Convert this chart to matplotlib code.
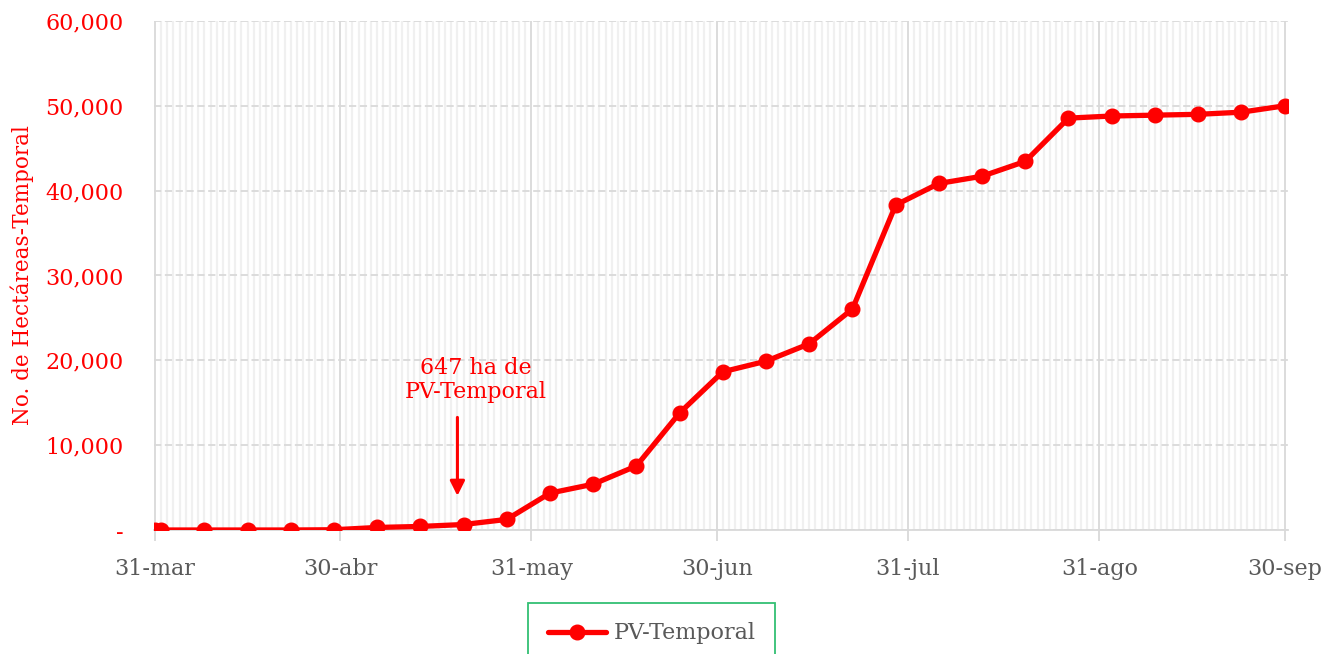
import pandas as pd
import matplotlib
matplotlib.use("Agg")
import matplotlib.pyplot as plt
import matplotlib.dates as mdates
from matplotlib.ticker import FixedLocator, FuncFormatter

# --- data ---
fechas = ["2019-03-31", "2019-04-01", "2019-04-08", "2019-04-15", "2019-04-22",
          "2019-04-29", "2019-05-06", "2019-05-13", "2019-05-20", "2019-05-27",
          "2019-06-03", "2019-06-10", "2019-06-17", "2019-06-24", "2019-07-01",
          "2019-07-08", "2019-07-15", "2019-07-22", "2019-07-29", "2019-08-05",
          "2019-08-12", "2019-08-19", "2019-08-26", "2019-09-02", "2019-09-09",
          "2019-09-16", "2019-09-23", "2019-09-30"]
hectareas = [0, 0, 0, 0, 0,
             30, 300, 420, 647, 1250,
             4350, 5400, 7550, 13800, 18650,
             19900, 21950, 26050, 38300, 40850,
             41700, 43450, 48550, 48800, 48900,
             49000, 49250, 50000]

tick_fechas = ["2019-03-31", "2019-04-30", "2019-05-31", "2019-06-30",
               "2019-07-31", "2019-08-31", "2019-09-30"]
tick_labels = ["31-mar", "30-abr", "31-may", "30-jun", "31-jul", "31-ago", "30-sep"]
y_ticks = [0, 10000, 20000, 30000, 40000, 50000, 60000]

serie = "PV-Temporal"
nota = "647 ha de\nPV-Temporal"

RED = "#ff0000"
GRAY_TXT = "#595959"
GRID = "#d9d9d9"
MINOR = "#f0f0f0"
FS = 16

plt.rcParams["font.family"] = ["DejaVu Serif"]

x = pd.to_datetime(fechas)
xt = mdates.date2num(pd.to_datetime(tick_fechas))

fig = plt.figure(figsize=(13.36, 6.54), dpi=100)
ax = fig.add_axes([0.1153, 0.1896, 0.964 - 0.1153, 0.9679 - 0.1896])

# daily minor grid
dias = pd.date_range("2019-03-31", "2019-09-30", freq="D")
ax.xaxis.set_minor_locator(FixedLocator(mdates.date2num(dias)))
ax.grid(which="minor", axis="x", color=MINOR, lw=1.6)
ax.xaxis.set_major_locator(FixedLocator(xt))
ax.set_xticklabels(tick_labels)
ax.grid(which="major", axis="x", color=GRID, lw=1.3)
ax.grid(which="major", axis="y", color=GRID, lw=1.3, ls=(0, (4, 2)))
ax.set_axisbelow(True)

ax.plot(x, hectareas, color=RED, lw=3.8, marker="o", ms=10.5, label=serie,
        solid_capstyle="round", zorder=3)

ax.set_xlim(xt[0] - 0.15, xt[-1] + 0.55)
ax.set_ylim(0, 60000)
ax.yaxis.set_major_locator(FixedLocator(y_ticks))
ax.yaxis.set_major_formatter(FuncFormatter(lambda v, p: "-" if v == 0 else f"{v:,.0f}"))

for s in ["top", "right", "left"]:
    ax.spines[s].set_visible(False)
ax.spines["bottom"].set_color(GRID)
ax.spines["bottom"].set_linewidth(1.3)

ax.tick_params(axis="x", which="major", colors=GRID, length=8, width=1.3,
               labelcolor=GRAY_TXT, labelsize=FS, pad=12)
ax.tick_params(axis="x", which="minor", length=0)
ax.tick_params(axis="y", length=0, labelcolor=RED, labelsize=FS, pad=22)

ax.set_ylabel("No. de Hectáreas-Temporal", color=RED, fontsize=15.5, labelpad=8)

# annotation
ax.text(mdates.date2num(pd.Timestamp("2019-05-22")), 17700, nota, color=RED,
        fontsize=FS, ha="center", va="center", linespacing=1.1)
ax.annotate("", xy=(mdates.date2num(pd.Timestamp("2019-05-19")), 3700),
            xytext=(mdates.date2num(pd.Timestamp("2019-05-19")), 13600),
            arrowprops=dict(arrowstyle="-|>", color=RED, lw=2.2, mutation_scale=22))

leg = fig.legend(loc="upper center", bbox_to_anchor=(0.4877, 0.078), fontsize=FS,
                 frameon=True, fancybox=False, borderpad=0.75, borderaxespad=0,
                 handlelength=2.6, handletextpad=0.35, labelcolor=GRAY_TXT)
leg.get_frame().set_edgecolor("#00b050")
leg.get_frame().set_linewidth(1.3)
# a bit more side padding, like the reference box
leg._legend_box.pad = 14

fig.savefig("out.png", dpi=100)
